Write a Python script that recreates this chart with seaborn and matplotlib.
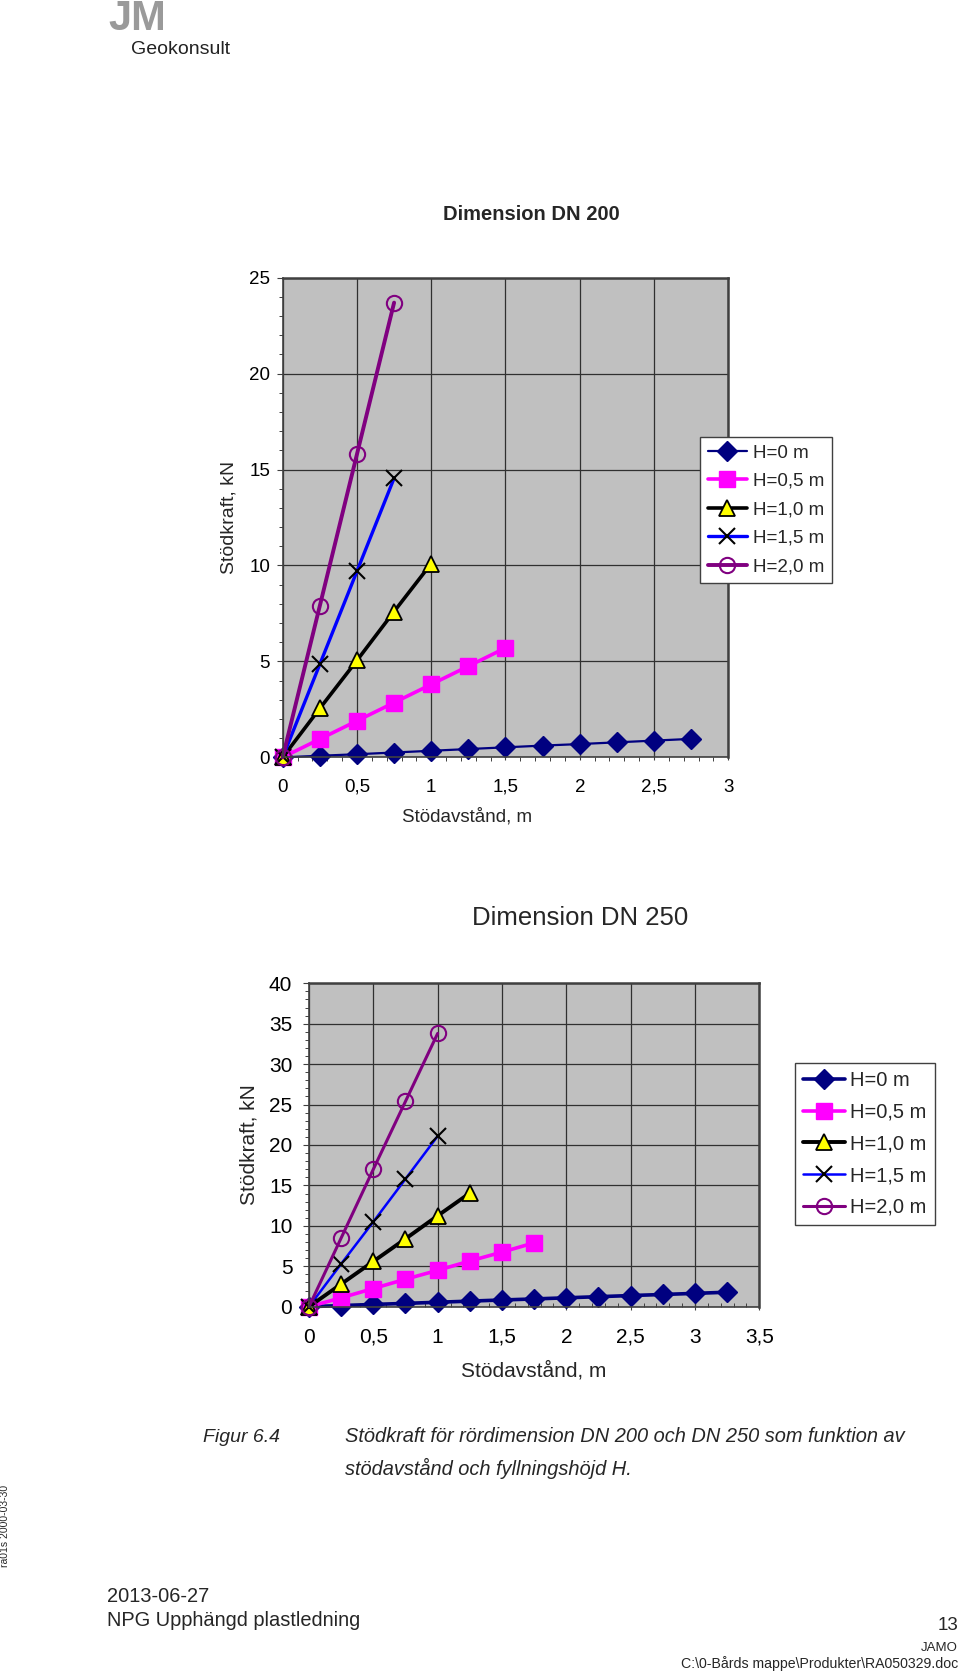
import matplotlib
matplotlib.use("Agg")
import matplotlib.pyplot as plt
from matplotlib.ticker import MultipleLocator, FuncFormatter
import seaborn as sns

# ---- data: Dimension DN 200 (x = stödavstånd m, y = stödkraft kN) ----
LABELS = ["H=0 m", "H=0,5 m", "H=1,0 m", "H=1,5 m", "H=2,0 m"]

dn200_x_h00 = [0, 0.25, 0.5, 0.75, 1.0, 1.25, 1.5, 1.75, 2.0, 2.25, 2.5, 2.75]
dn200_y_h00 = [0, 0.08, 0.16, 0.25, 0.34, 0.43, 0.52, 0.61, 0.69, 0.78, 0.87, 0.96]
dn200_x_h05 = [0, 0.25, 0.5, 0.75, 1.0, 1.25, 1.5]
dn200_y_h05 = [0, 0.95, 1.9, 2.85, 3.8, 4.75, 5.7]
dn200_x_h10 = [0, 0.25, 0.5, 0.75, 1.0]
dn200_y_h10 = [0, 2.55, 5.05, 7.6, 10.1]
dn200_x_h15 = [0, 0.25, 0.5, 0.75]
dn200_y_h15 = [0, 4.85, 9.7, 14.55]
dn200_x_h20 = [0, 0.25, 0.5, 0.75]
dn200_y_h20 = [0, 7.9, 15.8, 23.7]

# ---- data: Dimension DN 250 ----
dn250_x_h00 = [0, 0.25, 0.5, 0.75, 1.0, 1.25, 1.5, 1.75, 2.0, 2.25, 2.5, 2.75, 3.0, 3.25]
dn250_y_h00 = [0, 0.14, 0.28, 0.41, 0.55, 0.69, 0.83, 0.96, 1.1, 1.24, 1.38, 1.51, 1.65, 1.79]
dn250_x_h05 = [0, 0.25, 0.5, 0.75, 1.0, 1.25, 1.5, 1.75]
dn250_y_h05 = [0, 1.1, 2.25, 3.4, 4.5, 5.65, 6.75, 7.9]
dn250_x_h10 = [0, 0.25, 0.5, 0.75, 1.0, 1.25]
dn250_y_h10 = [0, 2.8, 5.6, 8.4, 11.25, 14.05]
dn250_x_h15 = [0, 0.25, 0.5, 0.75, 1.0]
dn250_y_h15 = [0, 5.3, 10.5, 15.8, 21.1]
dn250_x_h20 = [0, 0.25, 0.5, 0.75, 1.0]
dn250_y_h20 = [0, 8.5, 17.0, 25.4, 33.8]

DN200 = [(dn200_x_h00, dn200_y_h00), (dn200_x_h05, dn200_y_h05),
         (dn200_x_h10, dn200_y_h10), (dn200_x_h15, dn200_y_h15),
         (dn200_x_h20, dn200_y_h20)]
DN250 = [(dn250_x_h00, dn250_y_h00), (dn250_x_h05, dn250_y_h05),
         (dn250_x_h10, dn250_y_h10), (dn250_x_h15, dn250_y_h15),
         (dn250_x_h20, dn250_y_h20)]

# Excel-like series styles
STYLES = [
    dict(color="#000080", marker="D", ms=10, mfc="#000080", mec="#000080", mew=1),
    dict(color="#FF00FF", marker="s", ms=12, mfc="#FF00FF", mec="#FF00FF", mew=1),
    dict(color="#000000", marker="^", ms=12, mfc="#FFFF00", mec="#000000", mew=1.3),
    dict(color="#0000FF", marker="x", ms=11, mfc="none", mec="#000000", mew=1.5),
    dict(color="#800080", marker="o", ms=11, mfc="none", mec="#800080", mew=1.5),
]

sns.set_style("white")
plt.rcParams["font.family"] = ["Liberation Sans", "DejaVu Sans"]

W, H = 960, 1673
fig = plt.figure(figsize=(W / 100, H / 100), dpi=100)


def rect(x0, y0, x1, y1):
    return [x0 / W, 1 - y1 / H, (x1 - x0) / W, (y1 - y0) / H]


def comma(v, _):
    return f"{v:g}".replace(".", ",")


def draw(ax, series, lws, xmax, ymax, ymaj, fs, ypad, xpad, xdir):
    for (x, y), st, lw, lab in zip(series, STYLES, lws, LABELS):
        sns.lineplot(x=x, y=y, ax=ax, label=lab, color=st["color"], lw=lw,
                     marker=st["marker"], markersize=st["ms"],
                     markerfacecolor=st["mfc"], markeredgecolor=st["mec"],
                     markeredgewidth=st["mew"], clip_on=False, sort=False,
                     errorbar=None)
    ax.set_facecolor("#C0C0C0")
    ax.set_xlim(0, xmax)
    ax.set_ylim(0, ymax)
    ax.xaxis.set_major_locator(MultipleLocator(0.5))
    ax.xaxis.set_minor_locator(MultipleLocator(0.1))
    ax.yaxis.set_major_locator(MultipleLocator(ymaj))
    ax.yaxis.set_minor_locator(MultipleLocator(1))
    ax.xaxis.set_major_formatter(FuncFormatter(comma))
    ax.grid(True, which="major", color="#303030", lw=0.9)
    ax.set_axisbelow(True)
    for s in ax.spines.values():
        s.set_color("#404040")
        s.set_linewidth(1.2)
    ax.spines["top"].set_linewidth(1.8)
    ax.spines["right"].set_linewidth(1.8)
    ax.tick_params(axis="y", which="major", length=4, width=0.8, pad=ypad,
                   labelsize=fs, left=True, colors="#404040", labelcolor="black")
    ax.tick_params(axis="y", which="minor", length=3, width=0.7, left=True,
                   colors="#404040")
    ax.tick_params(axis="x", which="major", length=4, width=0.8, pad=xpad,
                   labelsize=fs, bottom=True, direction="inout",
                   colors="#404040", labelcolor="black")
    ax.tick_params(axis="x", which="minor", length=3, width=0.7, bottom=True,
                   direction=xdir, colors="#404040")
    ax.legend_.remove()


# ---- top chart: DN 200 ----
ax1 = fig.add_axes(rect(282.7, 277.7, 728.3, 757.3))
draw(ax1, DN200, [1.6, 2.6, 2.6, 2.4, 2.8], 3, 25, 5, 13.5, 5, 13.5, "out")
ax1.set_xlabel("Stödavstånd, m", fontsize=13.5)
ax1.set_ylabel("Stödkraft, kN", fontsize=14)
ax1.xaxis.set_label_coords(0.414, -0.106)
ax1.yaxis.set_label_coords(-0.101, 0.5)
fig.text(531 / W, 1 - 215 / H, "Dimension DN 200", ha="center", va="center",
         fontsize=14.5, fontweight="bold")
h, l = ax1.get_legend_handles_labels()
fig.legend(h, l, loc="upper left", bbox_to_anchor=(700 / W, 1 - 437 / H),
           fontsize=13.5, frameon=True, fancybox=False, edgecolor="#404040",
           framealpha=1, borderaxespad=0, handlelength=2.1, labelspacing=0.6,
           handletextpad=0.35, borderpad=0.4)

# ---- bottom chart: DN 250 ----
ax2 = fig.add_axes(rect(309, 983.3, 759.3, 1306.7))
draw(ax2, DN250, [2.6, 2.6, 2.8, 1.8, 2.2], 3.5, 40, 5, 15, 8, 13, "in")
ax2.set_xlabel("Stödavstånd, m", fontsize=15)
ax2.set_ylabel("Stödkraft, kN", fontsize=15)
ax2.xaxis.set_label_coords(0.498, -0.169)
ax2.yaxis.set_label_coords(-0.113, 0.5)
fig.text(580 / W, 1 - 918 / H, "Dimension DN 250", ha="center", va="center",
         fontsize=18.5)
h, l = ax2.get_legend_handles_labels()
fig.legend(h, l, loc="upper left", bbox_to_anchor=(795 / W, 1 - 1063 / H),
           fontsize=14.5, frameon=True, fancybox=False, edgecolor="#404040",
           framealpha=1, borderaxespad=0, handlelength=2.1, labelspacing=0.63,
           handletextpad=0.25, borderpad=0.4)

# ---- page decorations ----
fig.text(108 / W, 1 - 30 / H, "JM", ha="left", va="baseline", fontsize=30,
         fontweight="bold", color="#9a9a9a")
fig.text(131 / W, 1 - 50 / H, "Geokonsult", ha="left", va="center",
         fontsize=14, color="#222222")

fig.text(203 / W, 1 - 1437 / H, "Figur 6.4", ha="left", va="center",
         fontsize=14, style="italic")
fig.text(345 / W, 1 - 1437 / H,
         "Stödkraft för rördimension DN 200 och DN 250 som funktion av",
         ha="left", va="center", fontsize=14.4, style="italic")
fig.text(345 / W, 1 - 1468 / H, "stödavstånd och fyllningshöjd H.",
         ha="left", va="center", fontsize=14.4, style="italic")

fig.text(5 / W, 1 - 1526 / H, "ra01s 2000-03-30", rotation=90, ha="center",
         va="center", fontsize=7.5)

fig.text(107 / W, 1 - 1597 / H, "2013-06-27", ha="left", va="center",
         fontsize=14.4)
fig.text(107 / W, 1 - 1620 / H, "NPG Upphängd plastledning", ha="left",
         va="center", fontsize=14.4)
fig.text(958 / W, 1 - 1625 / H, "13", ha="right", va="center", fontsize=13.5)
fig.text(958 / W, 1 - 1648 / H, "JAMO", ha="right", va="center", fontsize=9.5)
fig.text(958 / W, 1 - 1664 / H, "C:\\0-Bårds mappe\\Produkter\\RA050329.doc",
         ha="right", va="center", fontsize=10.2)

fig.savefig("out.png", dpi=100)
